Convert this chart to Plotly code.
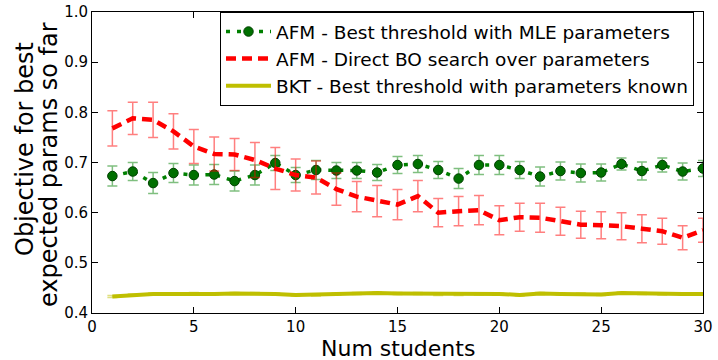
import plotly.graph_objects as go

# ---- data ----
num_students = list(range(1, 31))

afm_mle = [0.673, 0.682, 0.659, 0.679, 0.675, 0.676, 0.663, 0.675, 0.699, 0.675,
           0.685, 0.684, 0.684, 0.680, 0.695, 0.697, 0.685, 0.668, 0.695, 0.695,
           0.685, 0.672, 0.683, 0.679, 0.680, 0.697, 0.683, 0.695, 0.682, 0.688]
afm_mle_err = [0.020, 0.018, 0.021, 0.019, 0.020, 0.020, 0.020, 0.020, 0.015, 0.015,
               0.019, 0.016, 0.016, 0.016, 0.017, 0.017, 0.017, 0.020, 0.019, 0.019,
               0.017, 0.019, 0.018, 0.018, 0.017, 0.012, 0.018, 0.014, 0.017, 0.016]

afm_bo = [0.768, 0.788, 0.785, 0.762, 0.732, 0.717, 0.716, 0.705, 0.688, 0.675,
          0.670, 0.647, 0.632, 0.623, 0.616, 0.633, 0.600, 0.603, 0.605, 0.585,
          0.591, 0.590, 0.583, 0.576, 0.575, 0.573, 0.568, 0.563, 0.550, 0.565]
afm_bo_err = [0.035, 0.032, 0.035, 0.035, 0.034, 0.034, 0.032, 0.035, 0.042, 0.032,
              0.033, 0.032, 0.030, 0.031, 0.030, 0.031, 0.028, 0.029, 0.029, 0.029,
              0.028, 0.029, 0.028, 0.027, 0.027, 0.027, 0.028, 0.026, 0.024, 0.024]

bkt = [0.433, 0.436, 0.438, 0.438, 0.439, 0.438, 0.439, 0.439, 0.438, 0.436,
       0.436, 0.438, 0.439, 0.440, 0.439, 0.439, 0.437, 0.437, 0.438, 0.438,
       0.436, 0.439, 0.438, 0.438, 0.437, 0.440, 0.439, 0.438, 0.438, 0.438]
bkt_err = [0.002] * 30

labels = ["AFM - Best threshold with MLE parameters",
          "AFM - Direct BO search over parameters",
          "BKT - Best threshold with parameters known"]

x_ticks = [0, 5, 10, 15, 20, 25, 30]
y_ticks = [0.4, 0.5, 0.6, 0.7, 0.8, 0.9, 1.0]

# ---- figure ----
W, H = 718, 360
ML, MR, MT, MB = 92, 15, 12, 47
PW, PH = W - ML - MR, H - MT - MB


def px_x(px):
    return (px - ML) / PW


def px_y(py):
    return (H - MB - py) / PH


fig = go.Figure()

fig.add_trace(go.Scatter(
    x=num_students, y=afm_mle, name=labels[0], mode="lines+markers",
    line=dict(color="#008000", width=3.5, dash="4px,7px"),
    marker=dict(color="#007000", size=9.5, line=dict(color="#004000", width=1)),
    error_y=dict(type="data", array=afm_mle_err, color="rgba(0,128,0,0.5)",
                 thickness=1.5, width=5),
))
fig.add_trace(go.Scatter(
    x=num_students, y=afm_bo, name=labels[1], mode="lines",
    line=dict(color="#ff0000", width=4.5, dash="10px,6px"),
    error_y=dict(type="data", array=afm_bo_err, color="rgba(255,0,0,0.5)",
                 thickness=1.5, width=5),
))
fig.add_trace(go.Scatter(
    x=num_students, y=bkt, name=labels[2], mode="lines",
    line=dict(color="#bfbf00", width=4),
    error_y=dict(type="data", array=bkt_err, color="rgba(191,191,0,0.5)",
                 thickness=1.5, width=5),
))

tick_font = dict(family="DejaVu Sans", size=15, color="black")
axis_common = dict(showline=True, linecolor="black", linewidth=1, mirror="ticks",
                   ticks="inside", ticklen=6, tickcolor="black", tickwidth=1,
                   showgrid=False, zeroline=False, tickfont=tick_font,
                   automargin=False)

fig.update_xaxes(range=[0, 30], tickvals=x_ticks, ticktext=[str(v) for v in x_ticks],
                 **axis_common)
fig.update_yaxes(range=[0.4, 1.0], tickvals=y_ticks, ticktext=[f"{v:.1f}" for v in y_ticks],
                 **axis_common)

fig.add_annotation(text="Num students", xref="paper", yref="paper",
                   x=px_x(398), y=px_y(348), xanchor="center", yanchor="middle",
                   showarrow=False, font=dict(family="DejaVu Sans", size=22, color="black"))
ylab_font = dict(family="DejaVu Sans", size=24, color="black")
fig.add_annotation(text="Objective for best", xref="paper", yref="paper",
                   x=px_x(25), y=px_y(149), xanchor="center", yanchor="middle",
                   textangle=-90, showarrow=False, font=ylab_font)
fig.add_annotation(text="expected params so far", xref="paper", yref="paper",
                   x=px_x(49), y=px_y(165), xanchor="center", yanchor="middle",
                   textangle=-90, showarrow=False, font=ylab_font)

fig.update_layout(
    width=W, height=H, margin=dict(l=ML, r=MR, t=MT, b=MB, autoexpand=False),
    paper_bgcolor="white", plot_bgcolor="white",
    font=dict(family="DejaVu Sans", color="black"),
    legend=dict(x=px_x(694), y=px_y(12), xanchor="right", yanchor="top",
                bordercolor="black", borderwidth=1, bgcolor="white",
                itemwidth=45,
                font=dict(family="DejaVu Sans", size=18.5, color="black")),
)

fig.write_html("out.html")
